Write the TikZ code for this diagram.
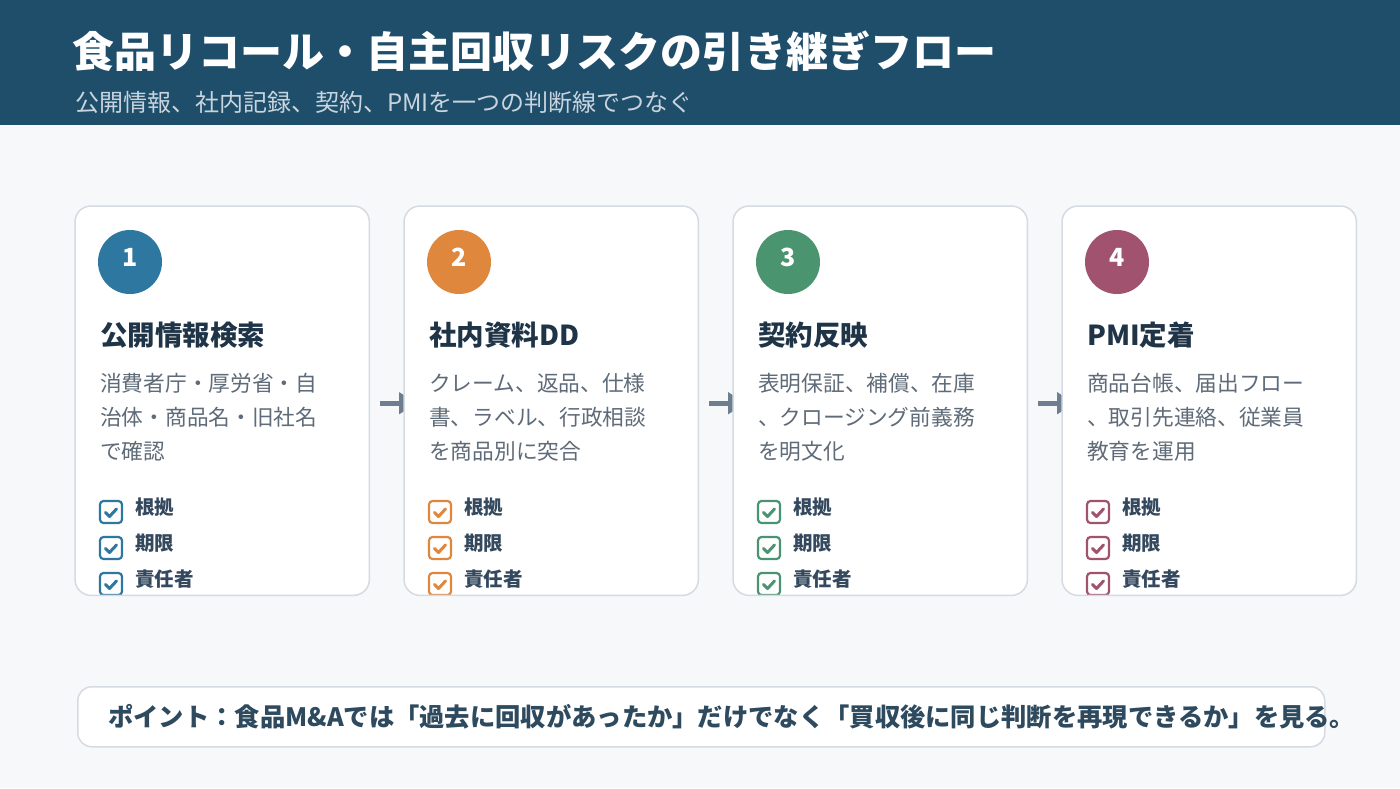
\documentclass[tikz,border=0pt]{standalone}
\usepackage{fontspec}
\setmainfont{Noto Sans CJK JP}
\usetikzlibrary{arrows.meta}
\definecolor{bg}{HTML}{F6F8FA}
\definecolor{hdr}{HTML}{1F4E6B}
\definecolor{subt}{HTML}{C8D5DF}
\definecolor{cardline}{HTML}{D4DBE3}
\definecolor{headc}{HTML}{1F3447}
\definecolor{bodyc}{HTML}{5F6B78}
\definecolor{labelc}{HTML}{34495E}
\definecolor{arrowc}{HTML}{6E7E8E}
\definecolor{cA}{HTML}{2E77A0}
\definecolor{cB}{HTML}{E0873E}
\definecolor{cC}{HTML}{4A9470}
\definecolor{cD}{HTML}{A0526F}
\definecolor{notec}{HTML}{2E4A5E}
\pgfdeclarelayer{back}
\pgfdeclarelayer{arr}
\pgfsetlayers{back,arr,main}
\tikzset{
  cardbox/.style={fill=white, rounded corners=16pt, minimum width=294pt, minimum height=389pt, inner sep=0pt},
  numcirc/.style={circle, minimum size=64pt, inner sep=0pt},
  numtxt/.style={inner sep=0pt, text=white, font=\fontsize{25}{25}\selectfont\bfseries},
  headtxt/.style={anchor=west, inner sep=0pt, text=headc, font=\fontsize{27.5}{27.5}\selectfont\bfseries},
  bodytxt/.style={anchor=west, inner sep=0pt, align=left, text=bodyc, font=\fontsize{21.7}{34}\selectfont},
  chkbox/.style={rounded corners=3.5pt, minimum size=22pt, inner sep=0pt, line width=2.2pt, fill=white},
  chkmark/.style={line width=3pt, line cap=round, line join=round},
  chklabel/.style={anchor=west, inner sep=0pt, text=labelc, font=\fontsize{19.5}{19.5}\selectfont\bfseries},
  flowarrow/.style={draw=arrowc, line width=5pt, -{Triangle[length=18pt,width=21pt]}},
}
\newcommand\stepcard[8]{%
  \node[cardbox, anchor=north west] (#1) at (#2,206) {};
  \begin{scope}
    \clip[rounded corners=16pt] (#1.north west) rectangle (#1.south east);
    \node[numcirc, fill=#3] (#1n) at (#2+55,262) {};
    \node[numtxt] (#1nt) at ([yshift=5pt]#1n.center) {#4};
    \node[headtxt] (#1h) at (#2+25,335) {#5};
    \node[bodytxt] (#1b) at (#2+25,417) {#6\\#7\\#8};
    \foreach \k/\cy/\lab in {1/512/根拠, 2/548/期限, 3/584/責任者}{
      \node[chkbox, draw=#3] (#1k\k) at (#2+36,\cy) {};
      \draw[chkmark, #3] ([shift={(-5.5,0.5)}]#1k\k.center) -- ([shift={(-1.5,4.5)}]#1k\k.center) -- ([shift={(5.5,-3)}]#1k\k.center);
      \node[chklabel] (#1l\k) at (#2+60,\cy-5) {\lab};
    }
  \end{scope}
  \draw[cardline, line width=1.5pt, rounded corners=16pt] (#1.north west) rectangle (#1.south east);
}
\begin{document}
\begin{tikzpicture}[x=1pt,y=-1pt]
\useasboundingbox (0,0) rectangle (1400,788);
\begin{pgfonlayer}{back}
  \fill[bg] (0,0) rectangle (1400,788);
  \fill[hdr] (0,0) rectangle (1400,125);
\end{pgfonlayer}
\node[anchor=west, inner sep=0pt, text=white, font=\fontsize{42}{42}\selectfont\bfseries] (title) at (72,51) {食品リコール・自主回収リスクの引き継ぎフロー};
\node[anchor=west, inner sep=0pt, text=subt, font=\fontsize{24}{24}\selectfont] (subtitle) at (75,102) {公開情報、社内記録、契約、PMIを一つの判断線でつなぐ};

\stepcard{c1}{75}{cA}{1}{公開情報検索}{消費者庁・厚労省・自}{治体・商品名・旧社名}{で確認}
\stepcard{c2}{404}{cB}{2}{社内資料DD}{クレーム、返品、仕様}{書、ラベル、行政相談}{を商品別に突合}
\stepcard{c3}{733}{cC}{3}{契約反映}{表明保証、補償、在庫}{、クロージング前義務}{を明文化}
\stepcard{c4}{1062}{cD}{4}{PMI定着}{商品台帳、届出フロー}{、取引先連絡、従業員}{教育を運用}

\begin{pgfonlayer}{arr}
  \draw[flowarrow] ([shift={(11,2.5)}]c1.east) -- ([shift={(13,2.5)}]c2.west);
  \draw[flowarrow] ([shift={(11,2.5)}]c2.east) -- ([shift={(13,2.5)}]c3.west);
  \draw[flowarrow] ([shift={(11,2.5)}]c3.east) -- ([shift={(13,2.5)}]c4.west);
\end{pgfonlayer}

\node[anchor=north west, fill=white, draw=cardline, line width=1.5pt, rounded corners=14pt, minimum width=1247pt, minimum height=60pt, inner sep=0pt] (note) at (77,686) {};
\node[anchor=west, inner sep=0pt, text=notec, font=\fontsize{25.3}{25.3}\selectfont\bfseries] (notetext) at (108,717) {ポイント：食品M\&Aでは「過去に回収があったか」だけでなく「買収後に同じ判断を再現できるか」を見る。};
\end{tikzpicture}
\end{document}
